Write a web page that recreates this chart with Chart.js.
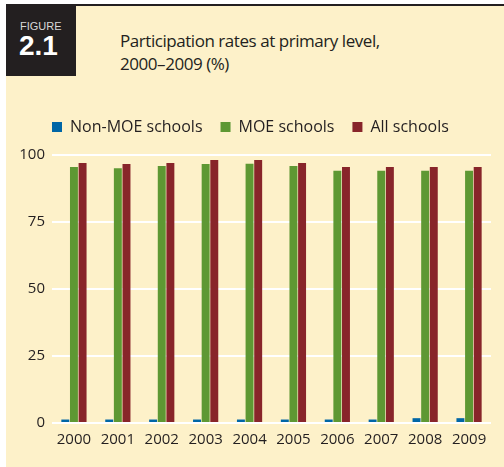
<!DOCTYPE html>
<html>
<head>
<meta charset="utf-8">
<script src="https://cdn.jsdelivr.net/npm/chart.js@4"></script>
<style>
  html, body { margin: 0; padding: 0; background: #fff; }
  #panel { position: absolute; left: 6px; top: 4px; width: 498px; height: 463px; background: #fdf1c9; border-top: 2px solid #231f20; box-sizing: border-box; }
  #tag { position: absolute; left: 6px; top: 4px; width: 70px; height: 72px; background: #231f20; }
  #tag .small { position: absolute; left: 14px; top: 16px; font: 11px "Liberation Sans", Arial, sans-serif; color: #d8d8d8; }
  #tag .big { position: absolute; left: 13px; top: 26px; font: bold 28px "Liberation Sans", Arial, sans-serif; color: #fff; }
  #title { position: absolute; left: 120px; top: 29px; font: 17px "Open Sans", sans-serif; letter-spacing: -0.45px; line-height: 23px; color: #231f20; }
  #wrap { position: absolute; left: 6px; top: 101px; width: 498px; height: 366px; }
</style>
</head>
<body>
<div id="panel"></div>
<div id="tag"><div class="small">FIGURE</div><div class="big">2.1</div></div>
<div id="title">Participation rates at primary level,<br>2000–2009 (%)</div>
<div id="wrap"><canvas id="c"></canvas></div>
<script>
// values
const years = ['2000', '2001', '2002', '2003', '2004', '2005', '2006', '2007', '2008', '2009'];
const nonMoe = [1.3, 1.3, 1.3, 1.3, 1.3, 1.3, 1.3, 1.3, 1.8, 1.8];
const moe = [95.5, 95.1, 95.9, 96.6, 96.7, 95.9, 94.1, 94.1, 94.1, 94.1];
const allSchools = [97.0, 96.6, 97.0, 98.1, 98.1, 97.0, 95.5, 95.5, 95.5, 95.5];
const yTicks = [0, 25, 50, 75, 100];

const font = '"Open Sans", sans-serif';
const ink = '#231f20';

// legend: extra room below it, and first item lined up with the plot's left edge
const legendTweak = {
  id: 'legendTweak',
  beforeInit(chart) {
    const fit = chart.legend.fit;
    chart.legend.fit = function () {
      fit.call(this);
      this.height += 10;
    };
  },
  afterLayout(chart) {
    const pad = chart.options.plugins.legend.labels.padding;
    chart.legend.left = chart.chartArea.left - pad;
  }
};

new Chart(document.getElementById('c'), {
  type: 'bar',
  data: {
    labels: years,
    datasets: [
      { label: 'Non-MOE schools', data: nonMoe, backgroundColor: '#0066a6' },
      { label: 'MOE schools', data: moe, backgroundColor: '#5e9833' },
      { label: 'All schools', data: allSchools, backgroundColor: '#88252a' }
    ]
  },
  options: {
    responsive: true,
    maintainAspectRatio: false,
    animation: false,
    categoryPercentage: 0.59,
    barPercentage: 0.92,
    layout: { padding: { left: 8, right: 13, top: 0, bottom: 10 } },
    plugins: {
      tooltip: { enabled: false },
      legend: {
        position: 'top',
        align: 'start',
        labels: {
          boxWidth: 10,
          boxHeight: 10,
          padding: 18,
          color: ink,
          font: { family: font, size: 16 }
        }
      }
    },
    scales: {
      x: {
        grid: { display: false, drawTicks: false },
        border: { display: false },
        ticks: { color: ink, padding: 8, maxRotation: 0, font: { family: font, size: 15 } }
      },
      y: {
        min: 0,
        max: 100,
        afterFit: scale => { scale.width = 38; },
        afterBuildTicks: scale => { scale.ticks = yTicks.map(v => ({ value: v })); },
        grid: { color: '#ffffff', lineWidth: 2, drawTicks: false },
        border: { display: false },
        ticks: { color: ink, padding: 7, font: { family: font, size: 15 } }
      }
    }
  },
  plugins: [legendTweak]
});
</script>
</body>
</html>
